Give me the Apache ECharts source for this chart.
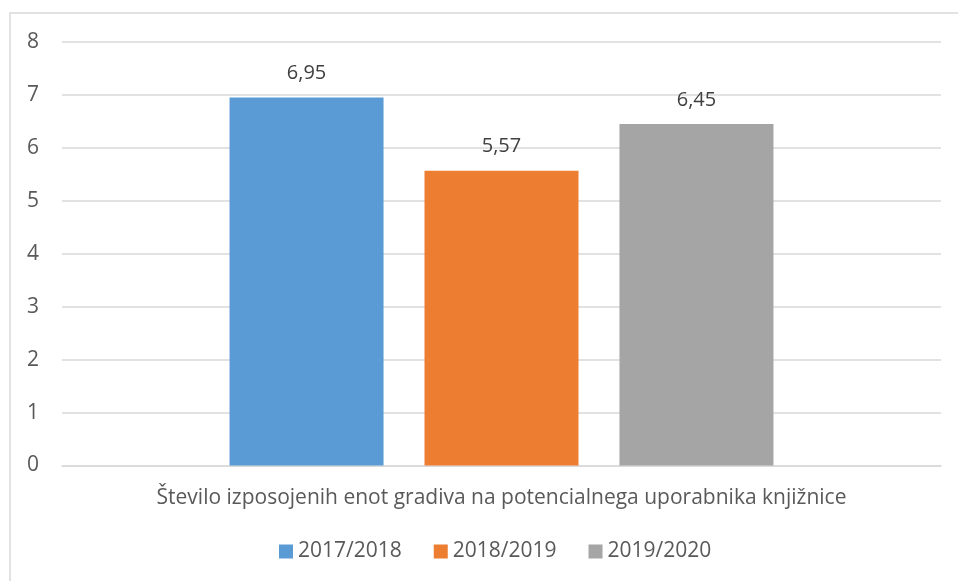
<!DOCTYPE html>
<html>
<head>
<meta charset="utf-8">
<script src="https://cdn.jsdelivr.net/npm/echarts@6/dist/echarts.min.js"></script>
<style>
  html, body { margin: 0; padding: 0; background: #fff; }
  #chart { width: 958px; height: 581px; }
</style>
</head>
<body>
<div id="chart"></div>
<script>
// Category and series values
const categories = ['Število izposojenih enot gradiva na potencialnega uporabnika knjižnice'];
const seriesNames = ['2017/2018', '2018/2019', '2019/2020'];
const values2017 = [6.95];
const values2018 = [5.57];
const values2019 = [6.45];
const seriesColors = ['#5b9bd5', '#ed7d31', '#a5a5a5'];
const yTicks = { min: 0, max: 8, interval: 1 };

const FONT = '"Open Sans", "Noto Sans", sans-serif';
const chart = echarts.init(document.getElementById('chart'));

const seriesData = [values2017, values2018, values2019];
const series = seriesNames.map((name, i) => ({
  name: name,
  type: 'bar',
  data: seriesData[i],
  barWidth: 154,
  barGap: '26.6%',
  itemStyle: { color: seriesColors[i] },
  label: {
    show: true,
    position: 'top',
    distance: 14,
    color: '#404040',
    fontFamily: FONT,
    fontSize: 20,
    formatter: p => p.value.toFixed(2).replace('.', ',')
  }
}));

chart.setOption({
  animation: false,
  backgroundColor: '#fff',
  graphic: [{
    type: 'rect',
    shape: { x: 10, y: 13, width: 960, height: 580 },
    style: { fill: 'none', stroke: '#d9d9d9', lineWidth: 1.5 },
    silent: true
  }],
  grid: { left: 62, right: 17, top: 42, bottom: 115.5, containLabel: false },
  legend: {
    data: seriesNames,
    bottom: 14,
    left: 274,
    itemWidth: 14,
    itemHeight: 14,
    itemGap: 32,
    icon: 'rect',
    textStyle: { color: '#595959', fontFamily: FONT, fontSize: 21 }
  },
  xAxis: {
    type: 'category',
    data: categories,
    axisLine: { show: true, lineStyle: { color: '#d9d9d9', width: 1.5 } },
    axisTick: { show: false },
    axisLabel: { color: '#595959', fontFamily: FONT, fontSize: 21, margin: 22 }
  },
  yAxis: {
    type: 'value',
    min: yTicks.min,
    max: yTicks.max,
    interval: yTicks.interval,
    axisLine: { show: false },
    axisTick: { show: false },
    splitLine: { lineStyle: { color: '#d9d9d9', width: 1.5 } },
    axisLabel: { color: '#595959', fontFamily: FONT, fontSize: 21, margin: 23 }
  },
  series: series
});
</script>
</body>
</html>
